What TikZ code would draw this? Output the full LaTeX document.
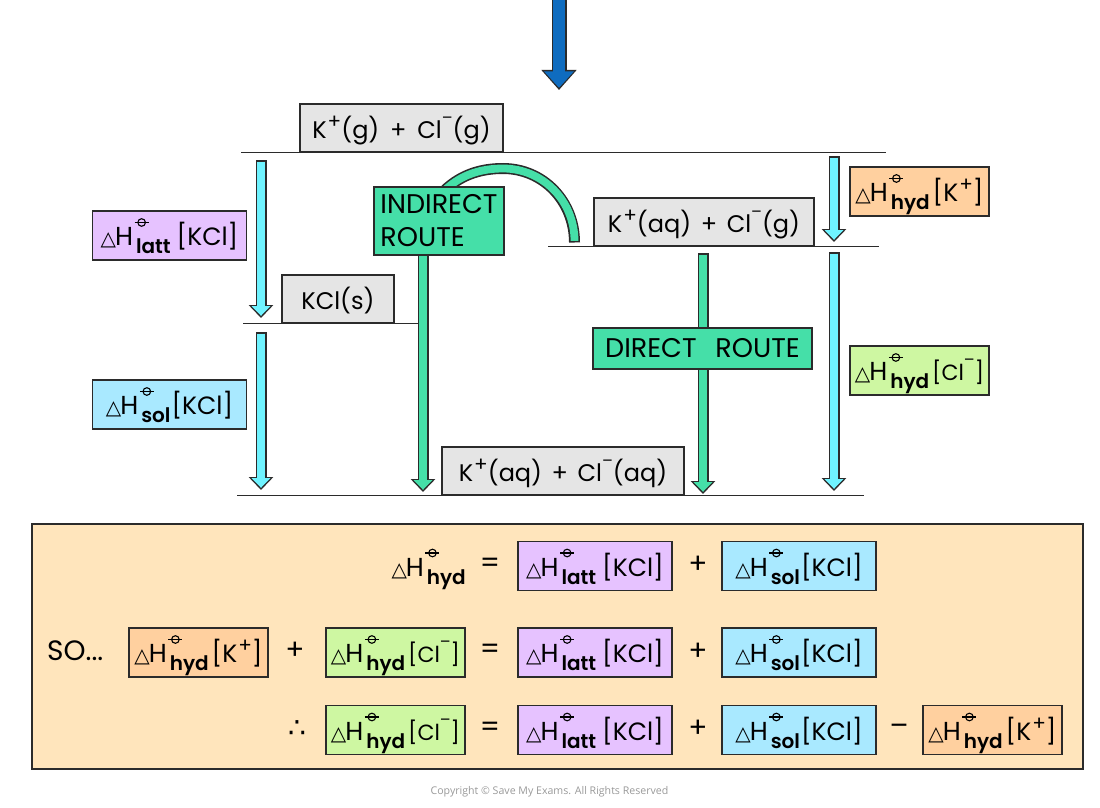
\documentclass[tikz,border=0pt]{standalone}
\usepackage{fontspec}
\setmainfont{Poppins}
\newfontfamily\symbolfont{DejaVu Sans}
\newfontfamily\subfont{Poppins SemiBold}
\newfontfamily\copyfont{Open Sans}
\usetikzlibrary{arrows.meta}

\definecolor{inkline}{HTML}{2B2B2B}
\definecolor{greybox}{HTML}{E5E5E5}
\definecolor{routegreen}{HTML}{45DFA8}
\definecolor{arrowcyan}{HTML}{6FF3FF}
\definecolor{arrowblue}{HTML}{0F6CBF}
\definecolor{lattpurple}{HTML}{E6C2FF}
\definecolor{solblue}{HTML}{A9E9FF}
\definecolor{hydorange}{HTML}{FFD09F}
\definecolor{hydlime}{HTML}{CEF7A2}
\definecolor{cream}{HTML}{FFE5BC}

\newcommand{\plimsoll}{\tikz[baseline=-3pt,x=1pt,y=1pt]{\draw[line width=1.1pt] (0,0) circle (3.8); \draw[line width=1.1pt] (-7,0) -- (7,0);}}
\newcommand{\dH}[1]{{\symbolfont\fontsize{20}{20}\selectfont △}\kern-1pt{\fontsize{26}{26}\selectfont H}\makebox[0pt][l]{\raisebox{20pt}{\kern1pt\plimsoll}}\kern3pt\raisebox{-8pt}{\fontsize{20}{20}\subfont #1}}
\newcommand{\ionplus}{\kern1pt\raisebox{10pt}{\fontsize{20}{20}\selectfont +}}
\newcommand{\ionminus}{\raisebox{15pt}{\fontsize{16}{16}\selectfont –}}
\newcommand{\latt}{\dH{latt}\kern6pt[KCl]}
\newcommand{\sol}{\dH{sol}\kern1pt[KCl]}
\newcommand{\hydK}{\dH{hyd}\kern3pt[K\ionplus]}
\newcommand{\hydCl}{\dH{hyd}\kern3pt{\fontsize{22}{22}\selectfont[Cl\ionminus]}}

\tikzset{
    level/.style={draw=inkline, line width=1.8pt},
    box/.style={draw=inkline, line width=1.6pt, inner sep=0pt},
    boxtext/.style={font=\fontsize{25}{30}\selectfont, text height=24pt, text depth=4pt},
    species/.style={box, boxtext, font=\fontsize{24}{30}\selectfont, fill=greybox, minimum height=48pt},
    route/.style={box, fill=routegreen, font=\fontsize{27}{33}\selectfont},
    lattbox/.style={box, boxtext, fill=lattpurple, minimum width=154pt, minimum height=49pt},
    solbox/.style={box, boxtext, fill=solblue, minimum width=154pt, minimum height=49pt},
    hydKbox/.style={box, boxtext, fill=hydorange, minimum width=139pt, minimum height=49pt},
    hydClbox/.style={box, boxtext, fill=hydlime, minimum width=139pt, minimum height=49pt},
    plain/.style={inner sep=0pt, boxtext},
    sign/.style={inner sep=0pt, font=\fontsize{28}{30}\selectfont},
    blockarrow/.style={draw=inkline, line width=11pt, -{Triangle[width=24pt,length=13pt]},
        postaction={draw=#1, line width=7.8pt, shorten >=2.2pt, shorten <=1.6pt, -{Triangle[width=18pt,length=9.6pt]}}},
    bigarrow/.style={draw=inkline, line width=15pt, -{Triangle[width=34pt,length=20pt]},
        postaction={draw=#1, line width=12pt, shorten >=2.2pt, -{Triangle[width=29pt,length=16.5pt]}}},
    blockline/.style={draw=inkline, line width=11pt,
        postaction={draw=routegreen, line width=7.8pt, shorten >=1.6pt}},
}

\begin{document}
\begin{tikzpicture}[x=1pt, y=-1pt]
    \useasboundingbox (0,0) rectangle (1100,808);

    % Levels
    \coordinate (gasL) at (241,152.5); \coordinate (gasR) at (886,152.5);
    \coordinate (solidL) at (243,323.5); \coordinate (solidR) at (418,323.5);
    \coordinate (mixL) at (548,246.5); \coordinate (mixR) at (879,246.5);
    \coordinate (aqL) at (237,495.5); \coordinate (aqR) at (864,495.5);
    \draw[level] (gasL) -- (gasR);
    \draw[level] (solidL) -- (solidR);
    \draw[level] (mixL) -- (mixR);
    \draw[level] (aqL) -- (aqR);

    % Species on the levels
    \node[species, minimum width=203pt] (gas) at (401.5,128) {K\ionplus(g)\hspace{0.45em}+\hspace{0.45em}Cl\ionminus(g)};
    \node[species, minimum width=112pt] (solid) at (338,299) {KCl(s)};
    \node[species, minimum width=220pt] (mix) at (704,222) {K\ionplus(aq)\hspace{0.4em}+\hspace{0.4em}Cl\ionminus(g)};
    \node[species, minimum width=242pt] (aq) at (563,471) {K\ionplus(aq)\hspace{0.4em}+\hspace{0.4em}Cl\ionminus(aq)};

    % Top arrow
    \coordinate (topS) at (559,-3); \coordinate (topE) at (559,90);
    \draw[bigarrow=arrowblue] (topS) -- (topE);

    % Enthalpy arrows
    \coordinate (lattS) at (261,160); \coordinate (lattE) at (261,318);
    \coordinate (solS) at (261,332); \coordinate (solE) at (261,490);
    \coordinate (hydKS) at (834,156); \coordinate (hydKE) at (834,242);
    \coordinate (hydClS) at (834,252); \coordinate (hydClE) at (834,491);
    \draw[blockarrow=arrowcyan] (lattS) -- (lattE);
    \draw[blockarrow=arrowcyan] (solS) -- (solE);
    \draw[blockarrow=arrowcyan] (hydKS) -- (hydKE);
    \draw[blockarrow=arrowcyan] (hydClS) -- (hydClE);

    % Routes
    \coordinate (arcS) at (445,190); \coordinate (arcE) at (574.5,242.5);
    \coordinate (indirectS) at (423,250); \coordinate (indirectE) at (423,492);
    \coordinate (directS) at (703,253); \coordinate (directE) at (703,494);
    \draw[blockline] (arcS) .. controls (462,174) and (482,168.5) .. (503,168.5) .. controls (543,168.5) and (574.5,201) .. (arcE);
    \draw[blockarrow=routegreen] (indirectS) -- (indirectE);
    \draw[blockarrow=routegreen] (directS) -- (directE);
    \node[route, align=left, minimum width=130pt, minimum height=68pt] (indirect) at (439,221) {INDIRECT\\ROUTE};
    \node[route, minimum width=219pt, minimum height=41pt, text height=22pt, text depth=4pt] (direct) at (702.5,348.5) {DIRECT\hspace{0.7em}ROUTE};

    % Side labels
    \node[lattbox] (lattside) at (169.5,235.5) {\latt};
    \node[solbox] (solside) at (169.5,404.5) {\sol};
    \node[hydKbox] (hydKside) at (919.5,191.5) {\hydK};
    \node[hydClbox] (hydClside) at (919.5,370.5) {\hydCl};

    % Summary panel
    \node[box, fill=cream, minimum width=1051pt, minimum height=245pt] (panel) at (557.5,646.5) {};

    \foreach \y/\n in {566/a,652.5/b,730/c} {
        \node[lattbox] (latt\n) at (595,\y) {\latt};
        \node[solbox] (sol\n) at (799,\y) {\sol};
        \node[sign] (eq\n) at (490,\y-1) {=};
        \node[sign] (plus\n) at (698,\y-1) {+};
    }

    \node[plain, anchor=east] (hyd) at (466,566) {\dH{hyd}};
    \node[sign, anchor=west] (so) at (47,651) {SO...};
    \node[hydKbox] (hydKb) at (198.5,652.5) {\hydK};
    \node[sign] (plusK) at (295,651) {+};
    \node[hydClbox] (hydClb) at (395.5,652.5) {\hydCl};
    \node[sign] (therefore) at (297,729) {\symbolfont ∴};
    \node[hydClbox] (hydClc) at (395.5,730) {\hydCl};
    \node[sign] (minus) at (899,730) {–};
    \node[hydKbox] (hydKc) at (992.5,730) {\hydK};

    \node[text=black!40, inner sep=0pt, font=\copyfont\fontsize{10.6}{13}\selectfont] (copyright) at (549.5,791.5) {Copyright © Save My Exams. All Rights Reserved};
\end{tikzpicture}
\end{document}
